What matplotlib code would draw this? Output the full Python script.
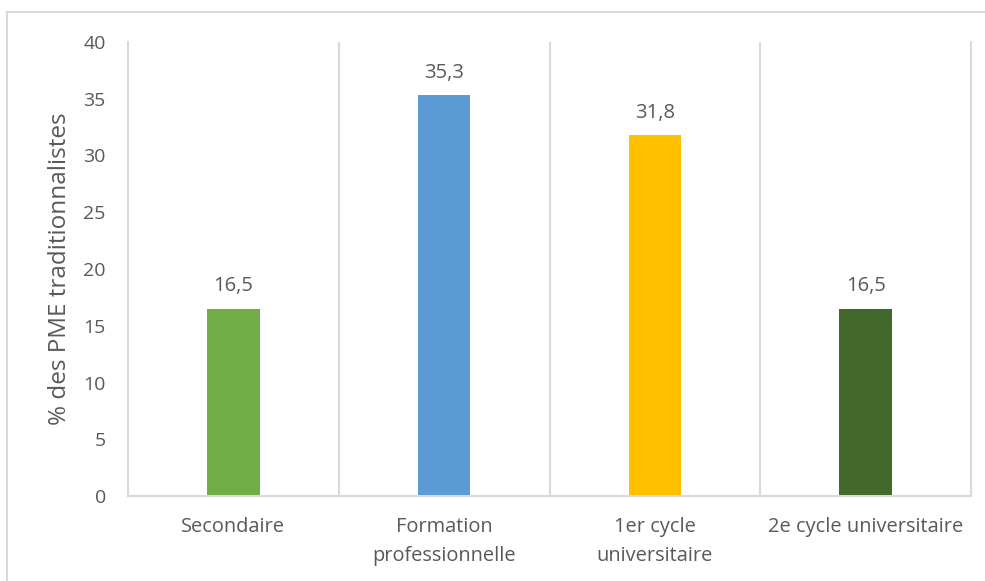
import matplotlib.pyplot as plt
from matplotlib.patches import Rectangle

categories = ["Secondaire", "Formation\nprofessionnelle", "1er cycle\nuniversitaire", "2e cycle universitaire"]
values = [16.5, 35.3, 31.8, 16.5]
colors = ["#70AD47", "#5B9BD5", "#FFC000", "#43682B"]

plt.rcParams['font.family'] = ['Open Sans', 'DejaVu Sans']
txt = "#595959"
grid = "#D9D9D9"

W, H = 985, 581
fig = plt.figure(figsize=(W / 100, H / 100), dpi=100)
ax = fig.add_axes([128 / W, 1 - 496 / H, (971 - 128) / W, (496 - 42) / H])

x = range(len(values))
rects = ax.bar(x, values, width=0.25, color=colors)

ax.set_xlim(-0.5, len(values) - 0.5)
ax.set_ylim(0, 40)
ax.set_yticks(range(0, 41, 5))
ax.set_xticks(list(x))
ax.set_xticklabels(categories, color=txt, fontsize=14.4, linespacing=1.6)
ax.tick_params(axis='y', colors=txt, labelsize=14, length=0, pad=16)
ax.tick_params(axis='x', length=0, pad=15)
for lab in ax.get_xticklabels():
    lab.set_verticalalignment('top')

# separators between categories
for b in [0.5, 1.5, 2.5]:
    ax.axvline(b, color=grid, lw=1.5, zorder=0)

ax.spines['top'].set_visible(False)
for side in ['left', 'right', 'bottom']:
    ax.spines[side].set_color(grid)
    ax.spines[side].set_linewidth(1.5)

ax.set_ylabel('% des PME traditionnalistes', color=txt, fontsize=17.5, labelpad=8)

for rect, v in zip(rects, values):
    ax.annotate(('%.1f' % v).replace('.', ','),
                (rect.get_x() + rect.get_width() / 2, rect.get_height()),
                xytext=(0, 9), textcoords='offset points',
                ha='center', va='bottom', color=txt, fontsize=14.5)

# outer chart frame
fig.patches.append(Rectangle((7 / W, -0.1), 1.1, 1 - 12 / H + 0.1,
                             transform=fig.transFigure, fill=False,
                             edgecolor=grid, lw=1.5))

plt.savefig("out.png", dpi=100)
plt.close()
